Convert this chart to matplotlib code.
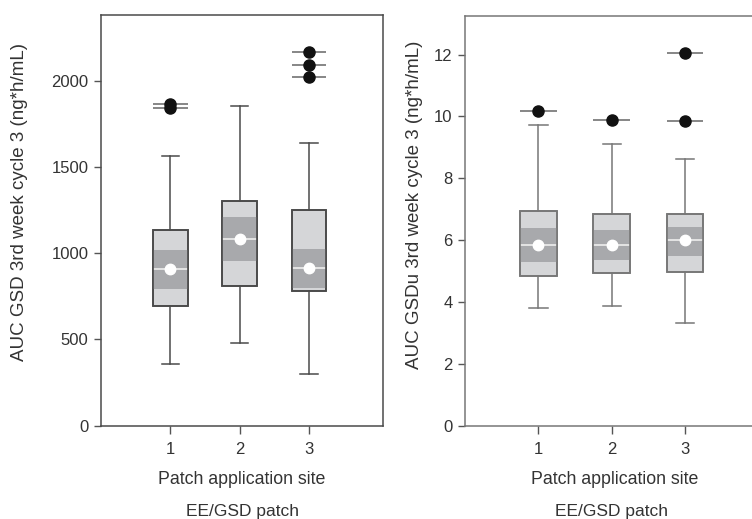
import matplotlib
matplotlib.use("Agg")
import matplotlib.pyplot as plt

plt.rcParams['font.family'] = ['Liberation Sans', 'DejaVu Sans']

sites = [1, 2, 3]
site_labels = ['1', '2', '3']

# AUC GSD (ng*h/mL) per application site
gsd_whislo = [356, 478, 300]
gsd_q1 = [694, 810, 781]
gsd_cilo = [791, 955, 796]
gsd_med = [907, 1084, 914]
gsd_cihi = [1018, 1210, 1026]
gsd_q3 = [1134, 1301, 1252]
gsd_whishi = [1565, 1853, 1641]
gsd_fliers = [[1867, 1840], [], [2168, 2089, 2023]]

# AUC GSDu (ng*h/mL) per application site
gsdu_whislo = [3.80, 3.88, 3.31]
gsdu_q1 = [4.83, 4.95, 4.96]
gsdu_cilo = [5.30, 5.36, 5.50]
gsdu_med = [5.85, 5.85, 5.99]
gsdu_cihi = [6.39, 6.33, 6.42]
gsdu_q3 = [6.94, 6.83, 6.83]
gsdu_whishi = [9.71, 9.11, 8.62]
gsdu_fliers = [[10.17], [9.89], [12.05, 9.85]]

light = '#d5d6d8'
dark = '#a8a9ac'
edge = '#4a4a4a'
txt = '#333333'


def make_stats(whislo, q1, cilo, med, cihi, q3, whishi):
    stats = []
    for i in range(len(med)):
        stats.append(dict(whislo=whislo[i], q1=q1[i], med=med[i], q3=q3[i],
                          whishi=whishi[i], mean=med[i], cilo=cilo[i],
                          cihi=cihi[i], fliers=[]))
    return stats


def draw_panel(ax, stats, fliers, ylim, yticks, ylabel, lw_col, label_y, label_x):
    w = 0.5
    ax.bar(sites, [s['cihi'] - s['cilo'] for s in stats], bottom=[s['cilo'] for s in stats],
           width=w, color=dark, zorder=2)
    ax.bxp(stats, positions=sites, widths=w, patch_artist=True, showmeans=True,
           showfliers=False,
           boxprops=dict(facecolor=light, edgecolor=lw_col, linewidth=1.2, zorder=1),
           whiskerprops=dict(color=lw_col, linewidth=1.1),
           capprops=dict(color=lw_col, linewidth=1.1),
           medianprops=dict(color='#eeeeee', linewidth=1.2, zorder=3),
           meanprops=dict(marker='o', markerfacecolor='white', markeredgecolor='white',
                          markersize=7.5, zorder=4))
    # redraw box outlines above the band
    for s, x in zip(stats, sites):
        ax.add_patch(plt.Rectangle((x - w / 2, s['q1']), w, s['q3'] - s['q1'],
                                   fill=False, edgecolor=lw_col, linewidth=1.2, zorder=3))
    for x, fl in zip(sites, fliers):
        if fl:
            ax.hlines(fl, x - w / 2, x + w / 2, color='#666666', linewidth=1.1, zorder=3)
            ax.plot([x] * len(fl), fl, 'o', color='#111111', markersize=8, zorder=4)
    ax.set_xlim(0, 4.07)
    ax.set_ylim(*ylim)
    ax.set_yticks(yticks)
    ax.set_xticks(sites)
    ax.set_xticklabels(site_labels)
    ax.set_ylabel(ylabel, fontsize=13.5, color=txt)
    ax.yaxis.set_label_coords(label_x, label_y)
    ax.set_xlabel('Patch application site', fontsize=12.8, color=txt, labelpad=10)
    ax.tick_params(direction='out', length=5, width=1, colors='#555555',
                   labelcolor=txt, labelsize=12, pad=4)
    ax.tick_params(axis='x', length=6, pad=6)
    for sp in ax.spines.values():
        sp.set_color(lw_col)
        sp.set_linewidth(1.1)


fig = plt.figure(figsize=(7.52, 5.19), dpi=100)
ax1 = fig.add_axes([0.1343, 0.1798, 0.3754, 0.7908])
ax2 = fig.add_axes([0.6184, 0.1798, 0.397, 0.7894])

draw_panel(ax1, make_stats(gsd_whislo, gsd_q1, gsd_cilo, gsd_med, gsd_cihi, gsd_q3,
                           gsd_whishi),
           gsd_fliers, (0, 2380), [0, 500, 1000, 1500, 2000],
           'AUC GSD 3rd week cycle 3 (ng*h/mL)', edge, 0.546, -0.26)
draw_panel(ax2, make_stats(gsdu_whislo, gsdu_q1, gsdu_cilo, gsdu_med, gsdu_cihi, gsdu_q3,
                           gsdu_whishi),
           gsdu_fliers, (0, 13.25), [0, 2, 4, 6, 8, 10, 12],
           'AUC GSDu 3rd week cycle 3 (ng*h/mL)', '#777777', 0.539, -0.142)

fig.text(0.3220, 0.0135, 'EE/GSD patch', ha='center', va='center', fontsize=12.5, color=txt)
fig.text(0.8132, 0.0135, 'EE/GSD patch', ha='center', va='center', fontsize=12.5, color=txt)

fig.savefig('out.png', dpi=100)
